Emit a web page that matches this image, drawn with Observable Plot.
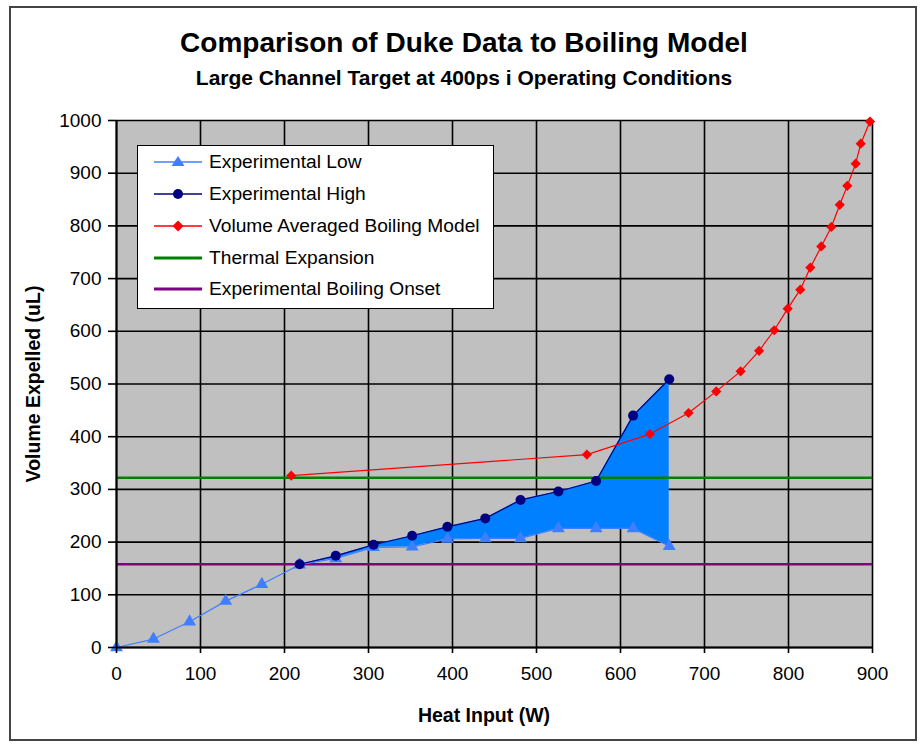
<!DOCTYPE html>
<html>
<head>
<meta charset="utf-8">
<script src="https://cdn.jsdelivr.net/npm/d3@7"></script>
<script src="https://cdn.jsdelivr.net/npm/@observablehq/plot@0.6"></script>
<style>
  body { margin: 0; background: #fff; }
  #chart { position: relative; width: 924px; height: 744px; font-family: "Liberation Sans", Arial, sans-serif; color: #000; }
  #chart > svg { position: absolute; left: 0; top: 0; }
  #border { position: absolute; left: 9px; top: 6px; width: 908px; height: 735px; border: 2px solid #444; box-sizing: border-box; pointer-events: none; }
  .title { position: absolute; left: 0; width: 928px; text-align: center; font-weight: bold; white-space: nowrap; }
  #t1 { top: 27px; font-size: 28px; }
  #t2 { top: 66px; font-size: 21px; }
  #xlabel { position: absolute; left: 384px; width: 200px; top: 704px; text-align: center; font-weight: bold; font-size: 19.5px; }
  #ylabel { position: absolute; left: 33px; top: 384px; transform: translate(-50%, -50%) rotate(-90deg); font-weight: bold; font-size: 19.5px; white-space: nowrap; }
  #legend { position: absolute; left: 137px; top: 145px; width: 357px; height: 164px; background: #fff; border: 1.5px solid #000; box-sizing: border-box; }
  .row { position: absolute; left: 0; height: 24px; display: flex; align-items: center; font-size: 19.2px; white-space: nowrap; }
  .row svg { margin-left: 16px; margin-right: 7px; }
</style>
</head>
<body>
<div id="chart">
  <div id="t1" class="title">Comparison of Duke Data to Boiling Model</div>
  <div id="t2" class="title">Large Channel Target at 400ps i Operating Conditions</div>
  <div id="xlabel">Heat Input (W)</div>
  <div id="ylabel">Volume Expelled (uL)</div>
  <div id="legend"></div>
  <div id="border"></div>
</div>
<script>
// Experimental low readings (heat input in W, volume in uL)
const heatLow = [0, 44, 87, 130, 173, 218, 261, 306, 352, 394, 439, 481, 526, 571, 615, 658];
const volLow = [0, 16, 49, 88, 120, 157, 169, 190, 191, 206, 207, 207, 226, 226, 226, 192];

// Experimental high readings
const heatHigh = [218, 261, 306, 352, 394, 439, 481, 526, 571, 615, 658];
const volHigh = [158, 174, 195, 212, 229, 245, 280, 296, 316, 440, 509];

// Volume averaged boiling model
const heatModel = [208, 560, 635, 681, 714, 743, 765, 783, 799, 814, 826, 839, 851, 861, 870, 880, 886, 897];
const volModel = [326, 366, 405, 445, 486, 524, 563, 602, 643, 679, 721, 761, 798, 840, 876, 918, 956, 998];

// Reference levels
const thermalExpansion = 322;
const boilingOnset = 158;

// Axis ticks
const xTicks = [0, 100, 200, 300, 400, 500, 600, 700, 800, 900];
const yTicks = [0, 100, 200, 300, 400, 500, 600, 700, 800, 900, 1000];

const seriesNames = ["Experimental Low", "Experimental High", "Volume Averaged Boiling Model", "Thermal Expansion", "Experimental Boiling Onset"];
const seriesColors = ["#3f7fff", "#000080", "#ff0000", "#008000", "#800080"];
const bandColor = "#0080ff";

const low = heatLow.map((x, i) => ({x, y: volLow[i]}));
const high = heatHigh.map((x, i) => ({x, y: volHigh[i]}));
const model = heatModel.map((x, i) => ({x, y: volModel[i]}));
// spread between low and high where both were measured
const band = heatHigh.map((x, i) => ({x, lo: volLow[heatLow.indexOf(x)], hi: volHigh[i]}));

const chart = Plot.plot({
  width: 924,
  height: 744,
  marginLeft: 116,
  marginRight: 52,
  marginTop: 120,
  marginBottom: 97,
  style: {fontFamily: "'Liberation Sans', Arial, sans-serif", fontSize: "19px", color: "#000", background: "transparent"},
  x: {domain: [0, 900]},
  y: {domain: [0, 1000]},
  marks: [
    Plot.frame({fill: "#c0c0c0"}),
    Plot.gridX(xTicks, {stroke: "#000", strokeOpacity: 1, strokeWidth: 1.6}),
    Plot.gridY(yTicks, {stroke: "#000", strokeOpacity: 1, strokeWidth: 1.6}),
    Plot.areaY(band, {x: "x", y1: "lo", y2: "hi", fill: bandColor}),
    Plot.ruleY([thermalExpansion], {stroke: seriesColors[3], strokeWidth: 2.6}),
    Plot.ruleY([boilingOnset], {stroke: seriesColors[4], strokeWidth: 2.6}),
    Plot.line(low, {x: "x", y: "y", stroke: seriesColors[0], strokeWidth: 1.2}),
    Plot.dot(low, {x: "x", y: "y", symbol: "triangle", r: 4.8, fill: seriesColors[0]}),
    Plot.line(high, {x: "x", y: "y", stroke: seriesColors[1], strokeWidth: 1.2}),
    Plot.dot(high, {x: "x", y: "y", symbol: "circle", r: 5, fill: seriesColors[1]}),
    Plot.line(model, {x: "x", y: "y", stroke: seriesColors[2], strokeWidth: 1.2}),
    Plot.dot(model, {x: "x", y: "y", symbol: "diamond2", r: 4.6, fill: seriesColors[2]}),
    Plot.ruleX([0], {stroke: "#000", strokeWidth: 2}),
    Plot.ruleY([0], {stroke: "#000", strokeWidth: 2}),
    Plot.axisX({ticks: xTicks, tickSize: 6, tickPadding: 13, tickFormat: d => String(d), label: null, strokeWidth: 1.6}),
    Plot.axisY({ticks: yTicks, tickSize: 8, tickPadding: 7, tickFormat: d => String(d), label: null, strokeWidth: 1.6})
  ]
});
document.getElementById("chart").prepend(chart);

// legend entries
const legend = document.getElementById("legend");
const symbols = ["triangle", "circle", "diamond", null, null];
const rowTops = [4, 36, 68, 99.5, 131];
seriesNames.forEach((name, i) => {
  const row = document.createElement("div");
  row.className = "row";
  row.style.top = rowTops[i] + "px";
  const c = seriesColors[i];
  let marker = "";
  if (symbols[i] === "triangle") marker = `<path d="M24,6 L30.5,16 L17.5,16 Z" fill="${c}"/>`;
  if (symbols[i] === "circle") marker = `<circle cx="24" cy="12" r="5" fill="${c}"/>`;
  if (symbols[i] === "diamond") marker = `<path d="M24,6.5 L29.5,12 L24,17.5 L18.5,12 Z" fill="${c}"/>`;
  const w = symbols[i] ? 1.4 : 2.8;
  row.innerHTML = `<svg width="48" height="24"><line x1="0" y1="12" x2="48" y2="12" stroke="${c}" stroke-width="${w}"/>${marker}</svg><span>${name}</span>`;
  legend.appendChild(row);
});
</script>
</body>
</html>
